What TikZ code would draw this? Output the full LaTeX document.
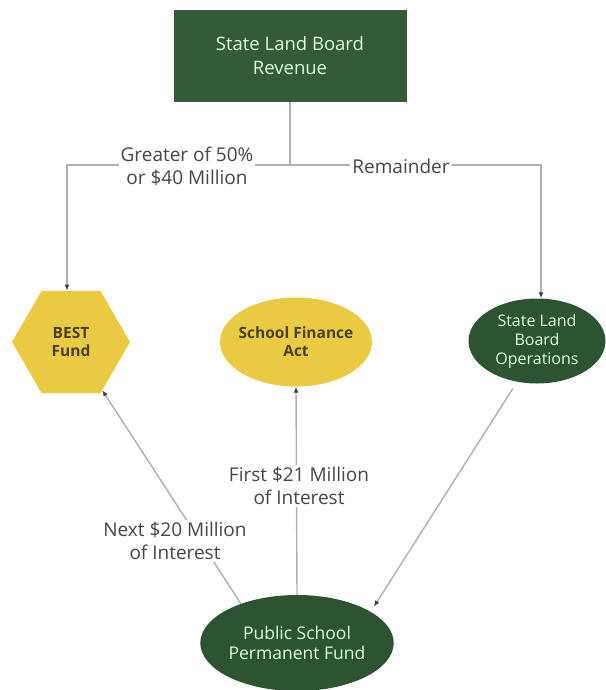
\documentclass[tikz,border=0pt]{standalone}
\usepackage{fontspec}
\setmainfont{Open Sans}
\usepackage{tikz}
\usetikzlibrary{shapes,shapes.geometric,arrows.meta,positioning,calc}
\usepackage{xcolor}
\definecolor{boardgreen}{RGB}{52,90,56}
\definecolor{fundgreen}{RGB}{44,84,50}
\definecolor{bestyellow}{RGB}{234,202,66}
\definecolor{linkgray}{RGB}{175,175,175}
\definecolor{labelgray}{RGB}{70,70,70}
\definecolor{olivetext}{RGB}{75,65,20}

\begin{document}
\begin{tikzpicture}[x=1pt, y=-1pt,
  link/.style={draw=linkgray, line width=1.4pt, -{Latex[length=6pt,width=5pt,color=black!75]}},
  lbl/.style={fill=white, inner sep=2pt, align=center, text=labelgray, font=\fontsize{19}{23}\selectfont},
  greentext/.style={text=white!88!green, align=center},
  yellowtext/.style={text=olivetext, align=center, font=\fontsize{15.5}{18}\selectfont\bfseries}]
\useasboundingbox (0,0) rectangle (605,690);

% Source
\node[fill=boardgreen, minimum width=233pt, minimum height=92pt, greentext, font=\fontsize{18.5}{24}\selectfont] (rev) at (290,56) {State Land Board\\Revenue};

% Targets
\node[regular polygon, regular polygon sides=6, fill=bestyellow, minimum size=118pt, inner sep=0pt, yellowtext] (best) at (71,342) {BEST\\Fund};
\node[ellipse, fill=bestyellow, minimum width=152pt, minimum height=89pt, inner sep=-4pt, yellowtext] (sfa) at (296,342) {School Finance\\Act};
\node[ellipse, fill=fundgreen, minimum width=137pt, minimum height=85pt, inner sep=0pt, greentext, font=\fontsize{16}{19}\selectfont] (ops) at (537,341) {State Land\\Board\\Operations};

% Permanent fund
\node[ellipse, fill=fundgreen, minimum width=191pt, minimum height=96pt, inner sep=0pt, greentext, font=\fontsize{17.5}{20}\selectfont] (pspf) at (297,643) {Public School\\Permanent Fund};

% Split
\coordinate (split) at (290,165);
\coordinate (lft) at (67,165);
\coordinate (rgt) at (541,165);
\draw[link, -] (rev.south) -- (split);
\draw[link] (split) -- (lft) -- (lft |- best.north);
\draw[link] (split) -- (rgt) -- (rgt |- ops.north);

% Interest and returns
\draw[link] (pspf.145) -- (best);
\draw[link] (pspf.north) -- (sfa.south);
\draw[link, shorten <=8pt, shorten >=6pt] (ops.244) -- (pspf.23);

% Labels
\node[lbl] (gtr) at (187,166) {Greater of 50\%\\or \$40 Million};
\node[lbl] (rem) at (401,166) {Remainder};
\node[lbl] (fst) at (299,486) {First \$21 Million\\of Interest};
\node[lbl] (nxt) at (175,541) {Next \$20 Million\\of Interest};
\end{tikzpicture}
\end{document}
